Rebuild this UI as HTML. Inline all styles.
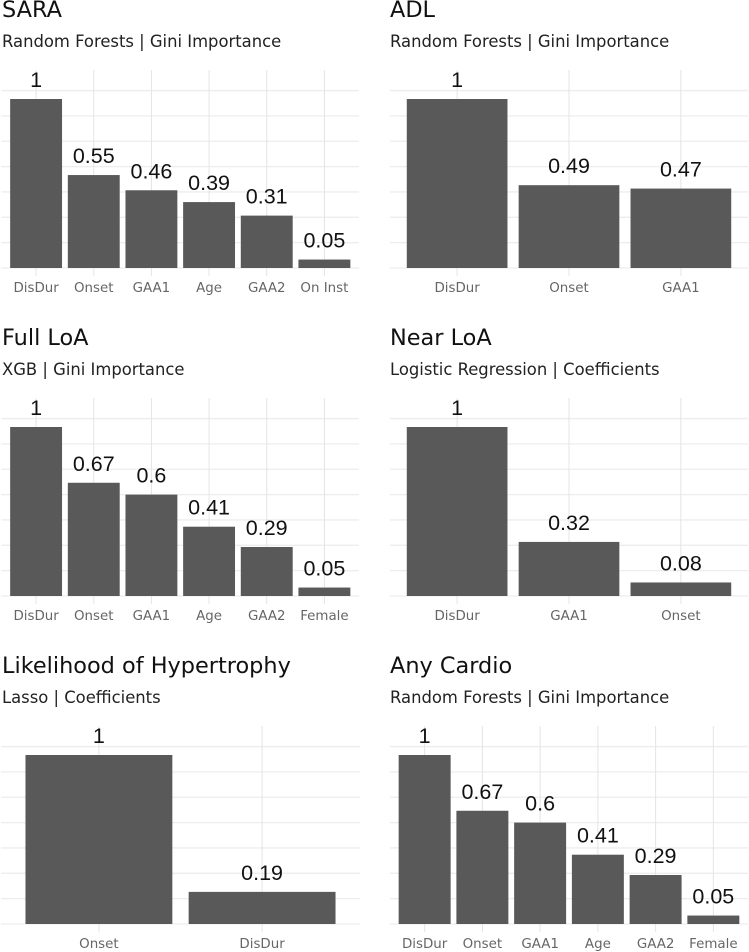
<!DOCTYPE html>
<html lang="en">
<head>
<meta charset="utf-8">
<title>Feature importance panels</title>
<style>
html,body{margin:0;padding:0;background:#fff;width:749px;height:952px;overflow:hidden}
svg{display:block}
.title{font-family:"DejaVu Sans","Liberation Sans",sans-serif;font-size:22.4px;fill:#111}
.sub{font-family:"DejaVu Sans","Liberation Sans",sans-serif;font-size:16.4px;fill:#222}
.val{font-family:"Liberation Sans",sans-serif;font-size:21.5px;fill:#111;text-anchor:middle}
.tick{font-family:"DejaVu Sans","Liberation Sans",sans-serif;font-size:13.4px;fill:#666;text-anchor:middle}
</style>
</head>
<body>
<svg id="chart" width="749" height="952" viewBox="0 0 749 952" xmlns="http://www.w3.org/2000/svg">
  <g id="p0">
    <text class="title" x="2" y="17">SARA</text>
    <text class="sub" x="2" y="47">Random Forests | Gini Importance</text>
  </g>
  <g id="p1">
    <text class="title" x="390" y="17">ADL</text>
    <text class="sub" x="390" y="47">Random Forests | Gini Importance</text>
  </g>
  <g id="p2">
    <text class="title" x="2" y="345">Full LoA</text>
    <text class="sub" x="2" y="375">XGB | Gini Importance</text>
  </g>
  <g id="p3">
    <text class="title" x="390" y="345">Near LoA</text>
    <text class="sub" x="390" y="375">Logistic Regression | Coefficients</text>
  </g>
  <g id="p4">
    <text class="title" x="2" y="673">Likelihood of Hypertrophy</text>
    <text class="sub" x="2" y="703">Lasso | Coefficients</text>
  </g>
  <g id="p5">
    <text class="title" x="390" y="673">Any Cardio</text>
    <text class="sub" x="390" y="703">Random Forests | Gini Importance</text>
  </g>
</svg>
<script>
var saraCategories = ["DisDur", "Onset", "GAA1", "Age", "GAA2", "On Inst"];
var saraValues = [1, 0.55, 0.46, 0.39, 0.31, 0.05];
var adlCategories = ["DisDur", "Onset", "GAA1"];
var adlValues = [1, 0.49, 0.47];
var fullLoaCategories = ["DisDur", "Onset", "GAA1", "Age", "GAA2", "Female"];
var fullLoaValues = [1, 0.67, 0.6, 0.41, 0.29, 0.05];
var nearLoaCategories = ["DisDur", "GAA1", "Onset"];
var nearLoaValues = [1, 0.32, 0.08];
var hypertrophyCategories = ["Onset", "DisDur"];
var hypertrophyValues = [1, 0.19];
var anyCardioCategories = ["DisDur", "Onset", "GAA1", "Age", "GAA2", "Female"];
var anyCardioValues = [1, 0.67, 0.6, 0.41, 0.29, 0.05];
var gridTicks = [0, 0.15, 0.3, 0.45, 0.6, 0.75, 0.9, 1.05];

var NS = "http://www.w3.org/2000/svg";
var PX_PER_UNIT = 169;

function makeX(left, right, n) {
  var step = (right - left) / (n - 1 + 1.2);
  return {
    step: step,
    at: function (i) { return left + step * (0.6 + i); }
  };
}
function makeY(base) {
  return function (v) { return base - v * PX_PER_UNIT; };
}
function svgEl(tag, attrs) {
  var el = document.createElementNS(NS, tag);
  for (var k in attrs) { el.setAttribute(k, attrs[k]); }
  return el;
}
function drawPanel(id, prefix, cats, vals, left, right, base) {
  var g = document.getElementById(id);
  var x = makeX(left, right, cats.length);
  var y = makeY(base);
  gridTicks.forEach(function (t) {
    var el = svgEl("line", { x1: left, x2: right, y1: y(t), y2: y(t), stroke: "#ededed", "stroke-width": 1.3 });
    
    
    g.appendChild(el);
  });
  cats.forEach(function (c, i) {
    var el = svgEl("line", { x1: x.at(i), x2: x.at(i), y1: base - 198, y2: base + 8, stroke: "#e4e4e4", "stroke-width": 1 });
    
    
    g.appendChild(el);
  });
  cats.forEach(function (c, i) {
    var w = x.step * 0.9;
    var bar = svgEl("rect", { x: x.at(i) - w / 2, y: y(vals[i]), width: w, height: base - y(vals[i]), fill: "#595959" });
    
    
    g.appendChild(bar);
    var label = svgEl("text", { x: x.at(i), y: y(vals[i]) - 12, "class": "val" });
    label.textContent = String(vals[i]);
    
    
    g.appendChild(label);
    var tick = svgEl("text", { x: x.at(i), y: base + 24, "class": "tick" });
    tick.textContent = c;
    
    
    g.appendChild(tick);
  });
}
drawPanel("p0", "sara", saraCategories, saraValues, 1.5, 359, 268);
drawPanel("p1", "adl", adlCategories, adlValues, 390, 748, 268);
drawPanel("p2", "full-loa", fullLoaCategories, fullLoaValues, 1.5, 359, 596);
drawPanel("p3", "near-loa", nearLoaCategories, nearLoaValues, 390, 748, 596);
drawPanel("p4", "hypertrophy", hypertrophyCategories, hypertrophyValues, 1, 360, 924);
drawPanel("p5", "any-cardio", anyCardioCategories, anyCardioValues, 390, 748, 924);
</script>
</body>
</html>
